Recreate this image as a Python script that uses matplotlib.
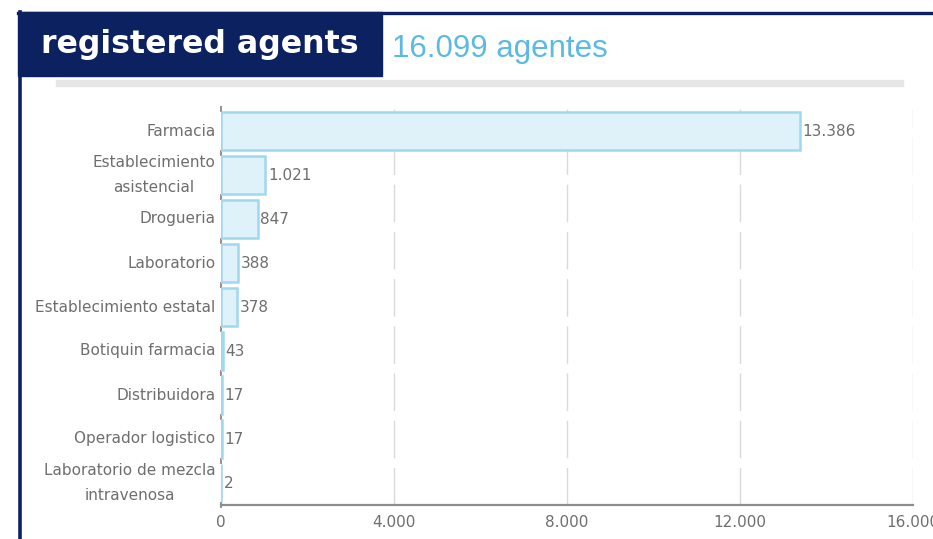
import matplotlib
matplotlib.use("Agg")
import matplotlib.pyplot as plt
from matplotlib.patches import Rectangle
from matplotlib.lines import Line2D
import numpy as np

# data
categories = [
    "Farmacia",
    "Establecimiento\nasistencial",
    "Drogueria",
    "Laboratorio",
    "Establecimiento estatal",
    "Botiquin farmacia",
    "Distribuidora",
    "Operador logistico",
    "Laboratorio de mezcla\nintravenosa",
]
values = [13386, 1021, 847, 388, 378, 43, 17, 17, 2]
xticks = [0, 4000, 8000, 12000, 16000]
title = "registered agents"
total_label = "16.099 agentes"

NAVY = "#0c2160"
GRAY_TXT = "#6e6e6e"
W, H = 933, 539


def fmt(v):
    return f"{v:,}".replace(",", ".")


fig = plt.figure(figsize=(W / 100, H / 100), dpi=100)

# frame / header decoration
fig.patches.append(Rectangle((18 / W, 1 - 76 / H), (382 - 18) / W, (76 - 12) / H,
                             transform=fig.transFigure, color=NAVY, zorder=0))
fig.lines.append(Line2D([18 / W, 1], [1 - 13 / H, 1 - 13 / H], transform=fig.transFigure,
                        color=NAVY, lw=2.4))
fig.lines.append(Line2D([19.5 / W, 19.5 / W], [0, 1 - 12 / H], transform=fig.transFigure,
                        color=NAVY, lw=2.6))
fig.patches.append(Rectangle((56 / W, 1 - 86 / H), (903 - 56) / W, 6 / H,
                             transform=fig.transFigure, color="#e6e6e6"))
fig.text(41 / W, 1 - 45 / H, title, color="white", fontsize=22.8, fontweight="bold",
         va="center", ha="left")
fig.text(392 / W, 1 - 49 / H, total_label, color="#5bb9e2", fontsize=22.5,
         family="Liberation Sans", va="center", ha="left")

ax = fig.add_axes([221 / W, 1 - 505 / H, (913 - 221) / W, (505 - 109) / H])
y = np.arange(len(categories))
ax.barh(y, values, height=0.85, color="#dff1f9", edgecolor="#9fd8ef", linewidth=1.8, zorder=3)
for yi, v in zip(y, values):
    ax.annotate(fmt(v), (v, yi), xytext=(2, 0), textcoords="offset points",
                va="center", ha="left", fontsize=11, color=GRAY_TXT, zorder=4)

ax.set_xlim(0, 16000)
ax.set_ylim(len(categories) - 0.5, -0.5)
ax.set_xticks(xticks)
ax.set_xticklabels([fmt(t) for t in xticks], fontsize=11, color=GRAY_TXT)
ax.set_yticks(y)
ax.set_yticklabels(categories, fontsize=11, color=GRAY_TXT, multialignment="center",
                   linespacing=1.85, va="center")
ax.tick_params(axis="both", length=0)
ax.tick_params(axis="x", pad=7)
ax.tick_params(axis="y", pad=4)

for s in ["top", "right", "left"]:
    ax.spines[s].set_visible(False)
ax.spines["bottom"].set_color("#8c8c8c")
ax.spines["bottom"].set_linewidth(1.6)
ax.spines["bottom"].set_zorder(5)

ax.grid(axis="x", color="#dadada", linewidth=1.0, dashes=(27, 7), zorder=1)
ax.grid(axis="y", visible=False)

# small marks on the category axis at band boundaries
bounds = np.arange(len(categories) + 1) - 0.5
ax.plot(np.zeros_like(bounds), bounds, ls="none", marker="|", ms=5, mew=1.2,
        color="#808080", clip_on=False, zorder=2)

fig.savefig("out.png", dpi=100)
